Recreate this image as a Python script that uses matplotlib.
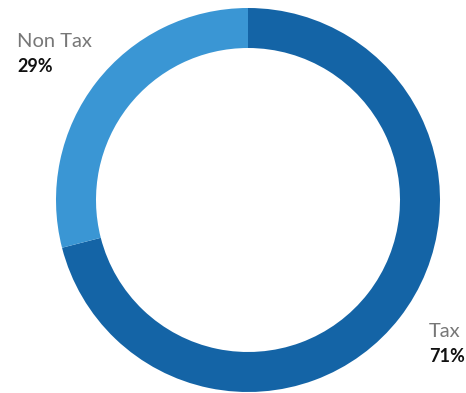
import matplotlib.pyplot as plt

labels = ['Tax', 'Non Tax']
shares = [71, 29]
colors = ['#1464a6', '#3a96d4']

W, H = 466, 393
fig = plt.figure(figsize=(W / 100, H / 100), dpi=100)
ax = fig.add_axes([0, 0, 1, 1])

# ring, starting at twelve o'clock and running clockwise
ax.pie(shares, colors=colors, startangle=90, counterclock=False,
       radius=192, center=(248, H - 200),
       wedgeprops=dict(width=40, linewidth=0))

ax.set_xlim(0, W)
ax.set_ylim(0, H)
ax.set_aspect('equal')
ax.axis('off')

label_pos = {'Non Tax': (17, H - 47), 'Tax': (429, H - 337)}
for name, val in zip(labels, shares):
    x, y = label_pos[name]
    ax.text(x, y, name, fontsize=14.5, color='#777777', family='Lato',
            ha='left', va='baseline')
    ax.text(x, y - 25, f'{val}%', fontsize=13, color='#111111', family='Lato',
            fontweight='bold', ha='left', va='baseline')

fig.savefig('out.png', dpi=100)
